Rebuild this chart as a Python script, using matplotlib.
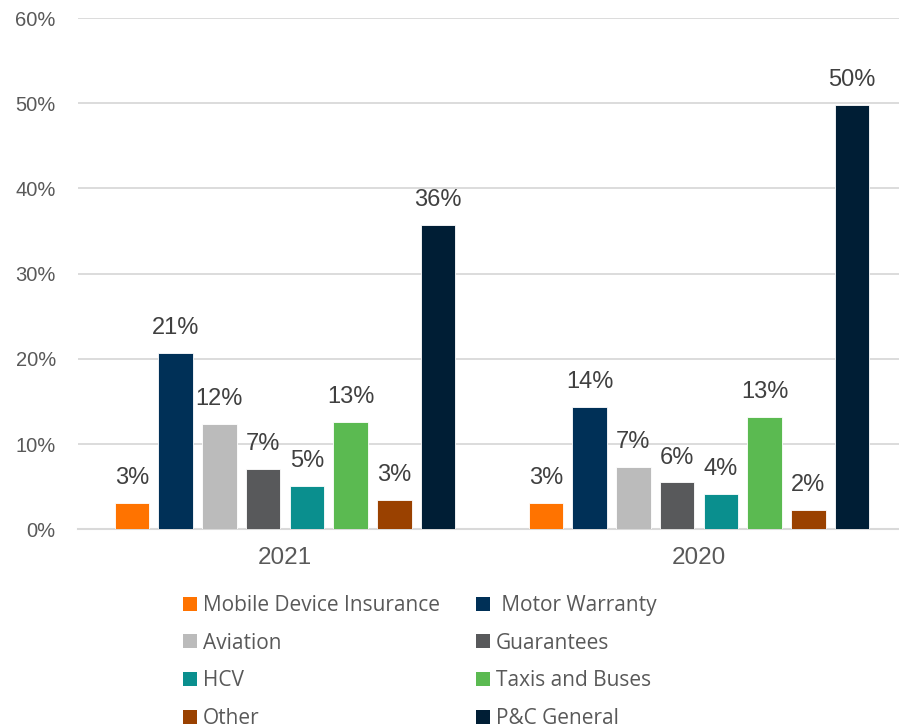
import matplotlib.pyplot as plt
import numpy as np
from matplotlib.patches import Patch

# data
years = ['2021', '2020']
lines = ['Mobile Device Insurance', ' Motor Warranty', 'Aviation', 'Guarantees',
         'HCV', 'Taxis and Buses', 'Other', 'P&C General']
shares = {
    'Mobile Device Insurance': [3.1, 3.1],
    ' Motor Warranty': [20.7, 14.4],
    'Aviation': [12.4, 7.3],
    'Guarantees': [7.1, 5.5],
    'HCV': [5.1, 4.2],
    'Taxis and Buses': [12.6, 13.2],
    'Other': [3.4, 2.3],
    'P&C General': [35.7, 49.8],
}
colors = ['#FF7300', '#003057', '#BBBBBB', '#58595B',
          '#0A8F8E', '#5BBA51', '#9A4100', '#001E35']

fig = plt.figure(figsize=(8.99, 7.25), dpi=100)
ax = fig.add_axes([78 / 899, (725 - 529.3) / 725, 821 / 899, 511.3 / 725])

x = np.arange(len(years))
step = 0.1056
width = 0.0838
for i, (name, c) in enumerate(zip(lines, colors)):
    vals = shares[name]
    pos = x + (i - 3.5) * step
    ax.bar(pos, vals, width=width, color=c, edgecolor='white', linewidth=0.6, zorder=3)
    for p, v in zip(pos, vals):
        ax.annotate(f'{round(v)}%', (p, v), xytext=(0, 10), textcoords='offset points',
                    ha='center', va='bottom', fontsize=17, color='#404040',
                    family='Liberation Sans')

ax.set_xlim(-0.5, (899 - 78) / 414 - 0.5)
ax.set_ylim(0, 60)
ax.set_yticks(range(0, 61, 10))
ax.set_yticklabels([f'{t}%' for t in range(0, 61, 10)])
ax.set_xticks(x)
ax.set_xticklabels(years)
ax.grid(axis='y', color='#D9D9D9', linewidth=1.3, zorder=0)
for s in ['top', 'right', 'left']:
    ax.spines[s].set_visible(False)
ax.spines['bottom'].set_color('#D9D9D9')
ax.spines['bottom'].set_linewidth(1.5)
ax.tick_params(axis='y', length=0, pad=16, labelsize=14.5, labelcolor='#595959')
ax.tick_params(axis='x', length=0, pad=13, labelsize=17.5, labelcolor='#595959')
for lab in ax.get_xticklabels() + ax.get_yticklabels():
    lab.set_family('Liberation Sans')

# legend: column-first ordering
order = [0, 2, 4, 6, 1, 3, 5, 7]
handles = [Patch(facecolor=colors[k], label=lines[k]) for k in order]
fig.legend(handles=handles, ncol=2, loc='upper left',
           bbox_to_anchor=(183 / 899, 1 - 595 / 725), frameon=False,
           prop={'family': 'Open Sans', 'size': 15}, labelcolor='#595959',
           handlelength=0.65, handleheight=0.65, handletextpad=0.3,
           columnspacing=1.75, labelspacing=0.8, borderpad=0, borderaxespad=0)

fig.savefig('out.png', dpi=100)
